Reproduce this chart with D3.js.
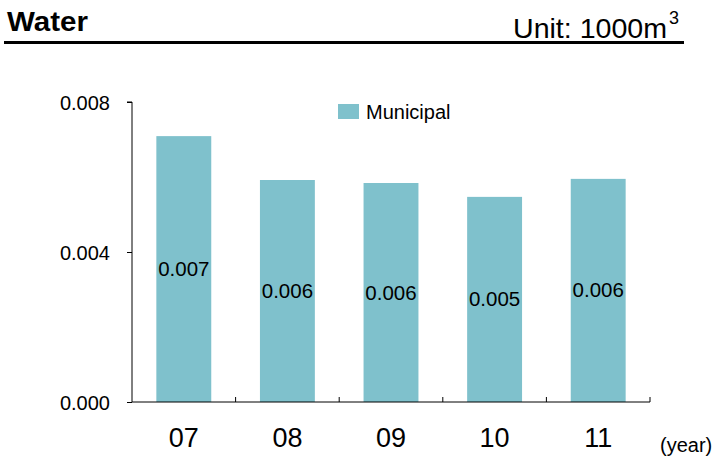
<!DOCTYPE html>
<html><head><meta charset="utf-8">
<script src="https://cdn.jsdelivr.net/npm/d3@7"></script>
<style>body{margin:0;background:#fff}svg{display:block;font-family:"Liberation Sans",Arial,sans-serif}</style>
</head><body><svg id="c" width="713" height="459"></svg>
<script>
const categories = ["07","08","09","10","11"];
const municipal = [0.00709, 0.00592, 0.00584, 0.00547, 0.00595];
const valueLabels = ["0.007","0.006","0.006","0.005","0.006"];
const yTicks = [0, 0.004, 0.008];
const seriesName = "Municipal";

const svg = d3.select("#c");
const x = d3.scaleBand().domain(categories).range([132, 650]).paddingInner(0.47).paddingOuter(0.235);
const y = d3.scaleLinear().domain([0, 0.008]).range([402, 102]);

// title
svg.append("text").attr("x", 7).attr("y", 31).attr("font-size", 28).attr("font-weight", "bold")
  .attr("textLength", 81).attr("lengthAdjust", "spacingAndGlyphs").text("Water");
const u = svg.append("text").attr("x", 513).attr("y", 38).attr("font-size", 28);
u.append("tspan").attr("textLength", 154).attr("lengthAdjust", "spacingAndGlyphs").text("Unit: 1000m");
u.append("tspan").attr("dx", 2).attr("dy", -14).attr("font-size", 18).text("3");
svg.append("line").attr("x1", 4).attr("x2", 684).attr("y1", 42.5).attr("y2", 42.5).attr("stroke", "#000").attr("stroke-width", 3);

// bars
svg.selectAll("rect.bar").data(municipal).join("rect").attr("class", "bar")
  .attr("x", (d, i) => x(categories[i])).attr("width", x.bandwidth())
  .attr("y", d => y(d)).attr("height", d => y(0) - y(d)).attr("fill", "#7fc1cc");
svg.selectAll("text.vl").data(municipal).join("text").attr("class", "vl")
  .attr("x", (d, i) => x(categories[i]) + x.bandwidth() / 2)
  .attr("y", d => (y(d) + y(0)) / 2 + 7)
  .attr("text-anchor", "middle").attr("font-size", 20.5).text((d, i) => valueLabels[i]);

// y axis
const ya = svg.append("g").attr("transform", "translate(132,0)")
  .call(d3.axisLeft(y).tickValues(yTicks).tickFormat(d3.format(".3f")).tickSize(5).tickPadding(17));
ya.selectAll("text").attr("font-size", 20).attr("fill", "#000").attr("font-family", "Liberation Sans, Arial, sans-serif").attr("dy", "0.35em");
ya.selectAll("line,path").attr("stroke", "#000");
ya.select("path").attr("d", "M-5,102H0V402");

// x axis
const edges = d3.range(categories.length + 1).map(i => i === categories.length ? 650 : x(categories[i]) - x.step() * x.paddingInner() / 2);
const xa = svg.append("g");
xa.append("line").attr("x1", 132).attr("x2", 650).attr("y1", 402).attr("y2", 402).attr("stroke", "#000");
xa.selectAll("line.t").data(edges.slice(1)).join("line").attr("class", "t")
  .attr("x1", d => d).attr("x2", d => d).attr("y1", 397).attr("y2", 402).attr("stroke", "#000");
xa.selectAll("text").data(categories).join("text")
  .attr("x", d => x(d) + x.bandwidth() / 2).attr("y", 447).attr("text-anchor", "middle")
  .attr("font-size", 27).text(d => d);
svg.append("text").attr("x", 660).attr("y", 452).attr("font-size", 20).text("(year)");

// legend
svg.append("rect").attr("x", 338).attr("y", 104).attr("width", 21).attr("height", 15).attr("fill", "#7fc1cc");
svg.append("text").attr("x", 366).attr("y", 119).attr("font-size", 20).text(seriesName);
</script></body></html>
